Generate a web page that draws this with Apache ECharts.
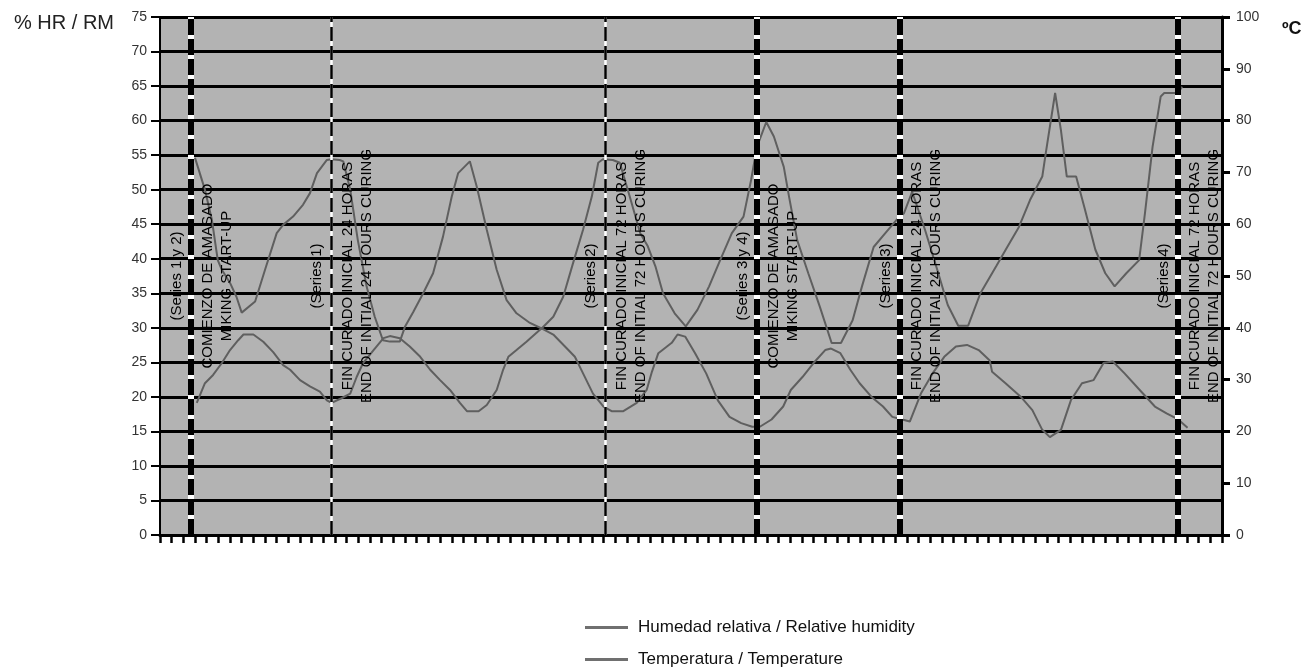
<!DOCTYPE html>
<html><head><meta charset="utf-8">
<script src="https://cdn.jsdelivr.net/npm/echarts@6/dist/echarts.min.js"></script>
<style>html,body{margin:0;padding:0;background:#fff}#c{width:1308px;height:668px}</style>
</head><body><div id="c"></div>
<script>
// Relative humidity (%), left axis — hours from chart origin
const rhHours = [6.0,7.7,8.9,9.9,10.6,12.0,13.1,14.0,16.3,18.0,20.0,21.1,22.8,24.5,25.7,26.9,28.6,29.4,30.8,31.4,32.6,33.9,35.4,36.8,38.2,39.4,41.1,42.0,43.4,45.1,46.8,48.5,50.0,51.1,53.1,54.3,56.0,57.7,59.4,61.1,63.4,65.4,67.4,69.1,70.8,72.5,74.0,75.1,75.9,77.6,78.8,80.5,82.3,83.6,84.9,86.2,88.2,90.1,92.1,94.1,96.0,98.0,100.0,101.3,102.3,103.9,105.2,106.9,107.8,109.2,111.1,113.1,115.1,116.7,118.7,120.3,122.3,124.3,126.2,127.5,128.9,131.1,133.2,135.0,136.8,138.5,140.6,143.3,145.2,147.2,149.1,151.2,151.8,153.4,154.4,155.4,157.0,158.4,160.3,162.0,163.6,165.6,167.8,168.8,170.1,171.5,172.1,174.4,175.2];
const rhValues = [54.6,50.0,45.6,39.8,38.4,36.5,34.5,32.2,33.8,38.4,43.7,44.9,46.1,47.8,49.5,52.4,54.3,54.4,54.3,54.1,50.0,42.7,36.0,31.6,28.2,28.0,28.0,30.2,32.3,35.0,37.9,43.2,49.0,52.4,54.1,50.4,44.2,38.4,34.0,32.1,30.7,29.9,31.6,34.5,39.4,44.2,49.0,53.9,54.4,54.3,53.9,49.0,43.7,41.8,38.9,35.0,32.1,30.2,32.6,36.0,39.8,43.7,46.1,51.4,56.2,59.8,57.7,53.3,49.0,42.7,37.9,33.0,27.8,27.8,31.1,36.0,41.7,43.7,45.6,46.6,49.7,44.2,38.4,33.3,30.3,30.3,35.0,38.9,41.7,44.6,48.5,51.9,55.3,64.0,58.6,51.9,51.9,47.5,41.3,37.9,36.0,37.9,39.8,46.6,56.2,63.5,64.0,64.0,64.9];

// Temperature (ºC), right axis
const tempHours = [6.3,7.7,9.1,10.6,12.0,13.4,14.3,16.0,17.7,19.4,21.1,22.3,24.0,25.7,27.4,28.6,29.4,31.1,32.6,33.7,34.8,36.6,38.3,39.4,41.1,42.8,44.6,46.3,48.0,49.7,51.4,52.6,54.6,56.0,57.7,58.8,59.7,61.1,62.8,65.4,67.4,69.4,71.1,72.5,74.2,76.0,77.4,79.4,81.7,83.4,84.3,85.4,87.7,88.7,90.0,91.7,93.6,95.6,97.6,99.6,101.5,102.8,104.8,106.8,108.1,110.1,112.0,114.0,115.0,116.6,118.3,119.9,121.9,123.9,125.5,127.2,128.5,130.4,132.4,134.4,136.4,138.3,140.3,142.2,142.6,144.9,147.5,149.5,151.2,152.5,154.4,156.1,158.0,160.0,161.7,163.3,165.3,167.9,170.5,172.5,174.5,176.1];
const tempValues = [25.5,29.3,30.9,33.2,35.7,37.6,38.7,38.7,37.3,35.3,32.8,31.9,29.9,28.7,27.7,26.0,25.5,26.4,27.3,30.5,33.2,35.7,38.0,38.4,38.0,36.4,34.4,31.9,29.9,28.0,25.5,23.9,23.9,25.1,28.0,31.9,34.4,35.7,37.3,39.9,38.7,36.4,34.4,31.2,27.3,24.8,23.9,23.9,25.5,28.0,31.5,35.1,37.1,38.7,38.3,35.1,31.2,26.0,22.8,21.6,20.9,20.9,22.3,24.8,28.0,30.5,33.2,35.7,36.0,35.1,31.9,29.3,26.7,24.8,22.8,22.3,21.9,27.3,31.2,34.4,36.4,36.7,35.7,33.7,31.5,29.3,26.7,24.1,20.3,18.9,20.3,26.0,29.3,29.9,33.2,33.5,31.2,28.0,24.8,23.5,22.3,20.7];

// Event markers
const eventHours = [5.3, 29.3, 76.3, 102.3, 126.8, 174.5];
const eventHeavy = [true, false, false, true, true, true];
const eventLeftLabels = ['(Series 1 y 2)', '(Series 1)', '(Series 2)', '(Series 3 y 4)', '(Series 3)', '(Series 4)'];
const eventRightLabels = [
  'COMIENZO DE AMASADO\nMIKING START-UP',
  'FIN CURADO INICIAL 24 HORAS\nEND OF INITIAL 24 HOURS CURING',
  'FIN CURADO INICIAL 72 HORAS\nEND OF INITIAL 72 HOURS CURING',
  'COMIENZO DE AMASADO\nMIKING START-UP',
  'FIN CURADO INICIAL 24 HORAS\nEND OF INITIAL 24 HOURS CURING',
  'FIN CURADO INICIAL 72 HORAS\nEND OF INITIAL 72 HOURS CURING'
];
const seriesNames = ['Humedad relativa / Relative humidity', 'Temperatura / Temperature'];
const leftAxisTitle = '% HR / RM';
const rightAxisTitle = 'ºC';

const FONT = 'Liberation Sans, Arial, sans-serif';
const mlData = [];
eventHours.forEach((h, i) => {
  const w = eventHeavy[i] ? 6 : 2.5;
  mlData.push({
    xAxis: h,
    lineStyle: { color: '#ffffff', width: w, type: 'solid' },
    label: { show: true, position: 'insideMiddleTop', formatter: eventLeftLabels[i], distance: 7,
      color: '#000', fontSize: 15, fontFamily: FONT }
  });
  mlData.push({
    xAxis: h,
    lineStyle: { color: '#000000', width: w, type: eventHeavy[i] ? [16, 4] : [14, 5] },
    label: { show: true, position: 'insideMiddleBottom', formatter: eventRightLabels[i], distance: 7,
      color: '#000', fontSize: 15, lineHeight: 19, fontFamily: FONT }
  });
});

const chart = echarts.init(document.getElementById('c'), null, { renderer: 'canvas' });
chart.setOption({
  animation: false,
  textStyle: { fontFamily: FONT },
  title: [
    { text: leftAxisTitle, left: 9, top: 8, textStyle: { fontSize: 20, fontWeight: 'normal', color: '#222', fontFamily: FONT } },
    { text: rightAxisTitle, left: 1277, top: 15, textStyle: { fontSize: 18, fontWeight: 'bold', color: '#111', fontFamily: FONT } }
  ],
  legend: {
    orient: 'vertical', left: 585, top: 619, itemWidth: 43, itemHeight: 3, itemGap: 15, padding: 0,
    icon: 'rect',
    itemStyle: { color: '#707070' },
    textStyle: { fontSize: 17, lineHeight: 17, color: '#111', fontFamily: FONT, padding: [0, 0, 0, 5] },
    data: seriesNames
  },
  grid: { left: 160, right: 86, top: 17, bottom: 133, show: true, backgroundColor: '#b3b3b3', borderColor: '#000', borderWidth: 1.5 },
  xAxis: {
    type: 'value', min: 0, max: 182, interval: 2,
    axisLine: { show: true, lineStyle: { color: '#000', width: 3 } },
    axisTick: { show: true, length: 8, lineStyle: { color: '#000', width: 2.5 } },
    axisLabel: { show: false },
    splitLine: { show: false }
  },
  yAxis: [
    {
      type: 'value', position: 'left', min: 0, max: 75, interval: 5,
      axisLine: { show: true, lineStyle: { color: '#000', width: 2 } },
      axisTick: { show: true, length: 9, lineStyle: { color: '#000', width: 2 } },
      axisLabel: { color: '#333', fontSize: 14, margin: 13, fontFamily: FONT },
      splitLine: { show: true, lineStyle: { color: '#000', width: 3 } }
    },
    {
      type: 'value', position: 'right', min: 0, max: 100, interval: 10,
      axisLine: { show: true, lineStyle: { color: '#000', width: 3 } },
      axisTick: { show: true, length: 8, lineStyle: { color: '#000', width: 3 } },
      axisLabel: { color: '#333', fontSize: 14, margin: 14, fontFamily: FONT },
      splitLine: { show: false }
    }
  ],
  series: [
    {
      name: seriesNames[0], type: 'line', yAxisIndex: 0, symbol: 'none', smooth: false,
      color: '#5f5f5f', lineStyle: { color: '#5f5f5f', width: 2 },
      data: rhHours.map((h, i) => [h, rhValues[i]]),
      z: 3
    },
    {
      name: seriesNames[1], type: 'line', yAxisIndex: 1, symbol: 'none', smooth: false,
      color: '#5f5f5f', lineStyle: { color: '#5f5f5f', width: 2 },
      data: tempHours.map((h, i) => [h, tempValues[i]]),
      z: 3,
      markLine: { symbol: 'none', silent: true, animation: false, data: mlData }
    }
  ]
});
</script>
</body></html>
